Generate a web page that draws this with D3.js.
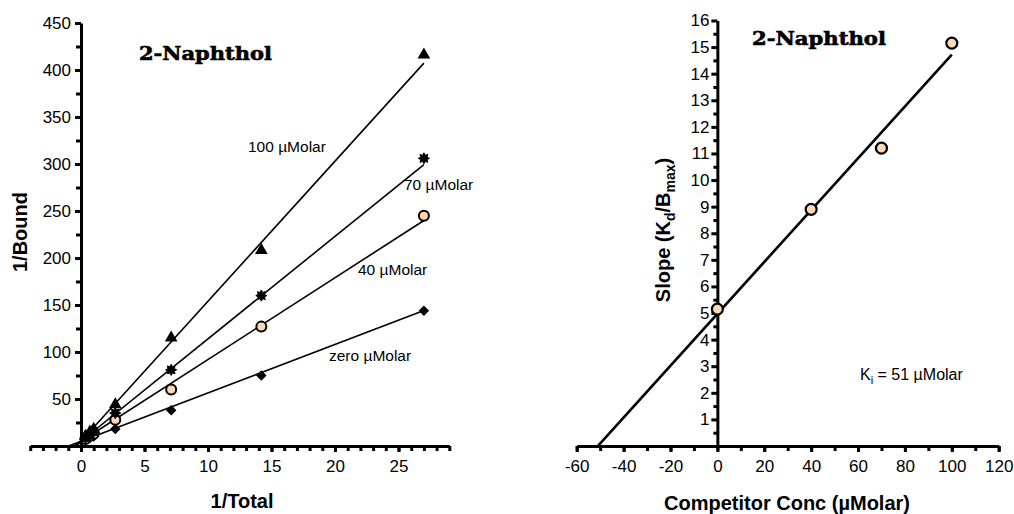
<!DOCTYPE html>
<html><head><meta charset="utf-8">
<script src="https://cdn.jsdelivr.net/npm/d3@7"></script>
<style>
body{margin:0;background:#fff}
text{font-family:"Liberation Sans",Arial,sans-serif;fill:#000}
</style>
</head><body>
<svg id="c" width="1014" height="514"></svg>
<script>
// ---------- data (left: double reciprocal plot) ----------
const invTotal = [0.35, 0.7, 1.0, 2.7, 7.1, 14.2, 27];
const seriesNames = ["zero µMolar", "40 µMolar", "70 µMolar", "100 µMolar"];
const invBoundZero = [6.5, 8.5, 10, 18, 38, 75, 144];
const invBound40  = [7.5, 11, 13, 28, 60, 127, 245];
const invBound70  = [8.5, 12.5, 15, 35, 81, 160, 306];
const invBound100 = [9.5, 14, 17, 43, 114, 207, 415];
const fitSlopes = [5.15, 8.7, 10.9, 14.9];
const fitIntercepts = [5, 5, 5, 5];
const fitXMax = 27;
const leftYTicks = [50,100,150,200,250,300,350,400,450];
const leftXTicks = [0,5,10,15,20,25];

// ---------- data (right: replot of slopes) ----------
const competitorConc = [0, 40, 70, 100];
const slopeValues = [5.15, 8.9, 11.2, 15.15];
const replotSlope = 0.0975;
const replotIntercept = 4.97;
const replotXRange = [-51, 100];
const rightXTicks = [-60,-40,-20,0,20,40,60,80,100,120];
const rightYTicks = d3.range(1, 17);

const svg = d3.select("#c");
const fmt = d => String(d);
const AXW = 3;

function axisG(tx, ty, axis, removeDomain){
  const g = svg.append("g").attr("transform",`translate(${tx},${ty})`).call(axis);
  g.selectAll("path.domain").attr("stroke","#000").attr("stroke-width",AXW)
    .style("stroke","#000").style("stroke-width",AXW+"px");
  g.selectAll(".tick line").attr("stroke","#000").attr("stroke-width",AXW)
    .style("stroke","#000").style("stroke-width",AXW+"px");
  g.selectAll(".tick text").style("font-size","17px").style("fill","#000")
    .style("font-family",'"Liberation Sans",Arial,sans-serif');
  if(removeDomain) g.select("path.domain").remove();
  return g;
}

const xL = d3.scaleLinear().domain([-4, 29]).range([30.2, 449.3]);
const yL = d3.scaleLinear().domain([0, 450]).range([446, 23]);
const xR = d3.scaleLinear().domain([-60,120]).range([576.7, 998.7]);
const yR = d3.scaleLinear().domain([0,16]).range([446, 20.5]);

// ---------- left chart marks ----------
fitSlopes.forEach((m,i)=>{
  const b = fitIntercepts[i];
  const x0 = -b/m;
  svg.append("line")
    .attr("x1",xL(x0)).attr("y1",yL(0))
    .attr("x2",xL(fitXMax)).attr("y2",yL(m*fitXMax+b))
    .attr("stroke","#000").attr("stroke-width",1.6);
});

const star8 = {draw(ctx,size){
  const R = Math.sqrt(size/Math.PI)*1.25, r = R*0.6;
  for(let k=0;k<16;k++){
    const a = Math.PI*k/8 - Math.PI/2;
    const rr = k%2===0 ? R : r;
    const px = rr*Math.cos(a), py = rr*Math.sin(a);
    if(k===0) ctx.moveTo(px,py); else ctx.lineTo(px,py);
  }
  ctx.closePath();
}};

function drawPts(vals, sym){
  const g = svg.append("g");
  vals.forEach((v,j)=>{
    const x = xL(invTotal[j]), y = yL(v);
    if(sym==="circle"){
      g.append("circle").attr("cx",x).attr("cy",y).attr("r",5)
        .attr("fill","#fcd9b4").attr("stroke","#000").attr("stroke-width",2);
    } else if(sym==="diamond"){
      g.append("path").attr("d",d3.symbol(d3.symbolSquare,55)())
        .attr("transform",`translate(${x},${y}) rotate(45)`).attr("fill","#000");
    } else if(sym==="triangle"){
      g.append("path").attr("d",d3.symbol(d3.symbolTriangle,70)())
        .attr("transform",`translate(${x},${y-1})`).attr("fill","#000");
    } else {
      g.append("path").attr("d",d3.symbol(star8,62)())
        .attr("transform",`translate(${x},${y})`).attr("fill","#000")
        .attr("stroke","#000").attr("stroke-width",1);
    }
  });
}
drawPts(invBoundZero,"diamond");
drawPts(invBound40,"circle");
drawPts(invBound70,"star");
drawPts(invBound100,"triangle");

const labelPos = [[329,361],[358,275],[404,190],[248,152]];
seriesNames.forEach((s,i)=>{
  svg.append("text").attr("x",labelPos[i][0]).attr("y",labelPos[i][1])
    .attr("font-size",15.5).text(s);
});

function title(x,y,len){
  svg.append("text").attr("x",x).attr("y",y)
    .attr("textLength",len).attr("lengthAdjust","spacingAndGlyphs")
    .style("font-family",'"DejaVu Serif",serif').style("font-weight","bold").style("font-size","19px")
    .style("stroke","#000").style("stroke-width","0.6px")
    .text("2-Naphthol");
}
title(139,60,133);
svg.append("text").attr("x",242).attr("y",508).attr("text-anchor","middle")
  .attr("font-weight","bold").attr("font-size",20).text("1/Total");
svg.append("text").attr("transform","translate(27,232) rotate(-90)").attr("text-anchor","middle")
  .attr("font-weight","bold").attr("font-size",20).text("1/Bound");

// ---------- right chart marks ----------
svg.append("line")
  .attr("x1",xR(replotXRange[0])).attr("y1",yR(replotSlope*replotXRange[0]+replotIntercept))
  .attr("x2",xR(replotXRange[1])).attr("y2",yR(replotSlope*replotXRange[1]+replotIntercept))
  .attr("stroke","#000").attr("stroke-width",2.6);

title(752,45,134);
svg.append("text").attr("x",787).attr("y",510).attr("text-anchor","middle")
  .attr("font-weight","bold").attr("font-size",20).text("Competitor Conc (µMolar)");

const yl = svg.append("text").attr("transform","translate(670,230) rotate(-90)").attr("text-anchor","middle")
  .attr("font-weight","bold").attr("font-size",20);
yl.append("tspan").text("Slope (K");
yl.append("tspan").attr("font-size",14).attr("dy",5).text("d");
yl.append("tspan").attr("dy",-5).text("/B");
yl.append("tspan").attr("font-size",14).attr("dy",5).text("max");
yl.append("tspan").attr("dy",-5).text(")");

const ki = svg.append("text").attr("x",860).attr("y",380).attr("font-size",16);
ki.append("tspan").text("K");
ki.append("tspan").attr("font-size",11).attr("dy",4).text("i");
ki.append("tspan").attr("dy",-4).text(" = 51 µMolar");

// ---------- axes ----------
axisG(0, yL(0), d3.axisBottom(xL).tickValues(d3.range(-4,30)).tickSize(5).tickFormat("").tickSizeOuter(0));
axisG(0, yL(0), d3.axisBottom(xL).tickValues(leftXTicks).tickSize(6).tickPadding(8).tickSizeOuter(0).tickFormat(fmt), true);
axisG(xL(0), 0, d3.axisLeft(yL).tickValues(d3.range(25,450,50)).tickSize(5).tickFormat("").tickSizeOuter(0));
axisG(xL(0), 0, d3.axisLeft(yL).tickValues(leftYTicks).tickSize(6).tickPadding(4).tickSizeOuter(0).tickFormat(fmt), true);

axisG(0, yR(0), d3.axisBottom(xR).tickValues(d3.range(-60,121,10)).tickSize(5).tickFormat("").tickSizeOuter(0));
axisG(0, yR(0), d3.axisBottom(xR).tickValues(rightXTicks).tickSize(6).tickPadding(8).tickSizeOuter(0).tickFormat(fmt), true);
axisG(xR(0), 0, d3.axisLeft(yR).tickValues(d3.range(0.5,16,1)).tickSize(4).tickFormat("").tickSizeOuter(0));
axisG(xR(0), 0, d3.axisLeft(yR).tickValues(rightYTicks).tickSize(6).tickPadding(2).tickSizeOuter(0).tickFormat(fmt), true);

svg.append("g").selectAll("circle").data(competitorConc).join("circle")
  .attr("cx",d=>xR(d)).attr("cy",(d,i)=>yR(slopeValues[i])).attr("r",5.5)
  .attr("fill","#fcd9b4").attr("stroke","#000").attr("stroke-width",2.2);
</script>
</body></html>
